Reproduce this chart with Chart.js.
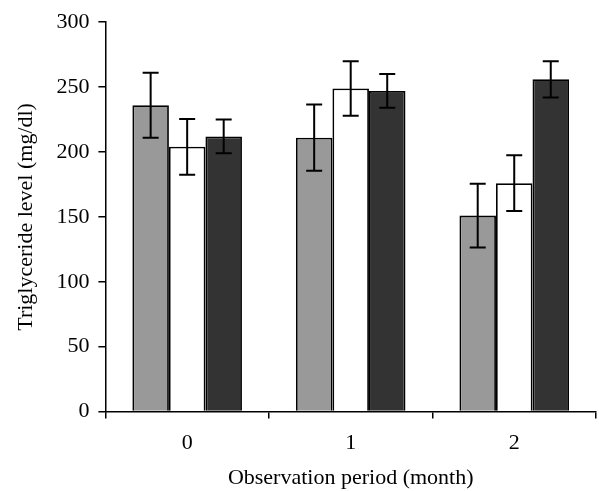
<!DOCTYPE html>
<html>
<head>
<meta charset="utf-8">
<script src="https://cdn.jsdelivr.net/npm/chart.js@4"></script>
<style>
  html, body { margin: 0; padding: 0; background: #fff; }
  #wrap { width: 599px; height: 491px; }
</style>
</head>
<body>
<div id="wrap"><canvas id="chart"></canvas></div>
<script>
const periods = ['0', '1', '2'];
const groupA = [236, 211, 151];
const groupB = [204, 249, 176];
const groupC = [212, 247, 256];
const errA = [25, 25.5, 24.5];
const errB = [21.5, 21, 21.5];
const errC = [13, 13, 14];
const yTicks = [0, 50, 100, 150, 200, 250, 300];

// draws the error bars on top of each bar
const errorBars = {
  id: 'errorBars',
  afterDatasetsDraw(chart) {
    const ctx = chart.ctx;
    const y = chart.scales.y;
    ctx.save();
    ctx.strokeStyle = '#000';
    ctx.lineWidth = 2;
    chart.data.datasets.forEach((ds, i) => {
      const meta = chart.getDatasetMeta(i);
      meta.data.forEach((bar, j) => {
        const v = ds.data[j];
        const e = ds.errors[j];
        const top = y.getPixelForValue(v + e);
        const bot = y.getPixelForValue(v - e);
        const x = bar.x;
        ctx.beginPath();
        ctx.moveTo(x, top); ctx.lineTo(x, bot);
        ctx.moveTo(x - 8, top); ctx.lineTo(x + 8, top);
        ctx.moveTo(x - 8, bot); ctx.lineTo(x + 8, bot);
        ctx.stroke();
      });
    });
    ctx.restore();
  }
};

const font = { family: '"Liberation Serif", "Times New Roman", serif', size: 22 };
const titleFont = Object.assign({}, font, { lineHeight: 1.0 });

new Chart(document.getElementById('chart'), {
  type: 'bar',
  data: {
    labels: periods,
    datasets: [
      { data: groupA, errors: errA, backgroundColor: '#999999' },
      { data: groupB, errors: errB, backgroundColor: '#ffffff' },
      { data: groupC, errors: errC, backgroundColor: '#333333' }
    ].map(d => Object.assign(d, { borderColor: '#000', borderWidth: 1.8, borderSkipped: 'bottom',
      categoryPercentage: 0.67, barPercentage: 1.0 }))
  },
  options: {
    responsive: true,
    maintainAspectRatio: false,
    animation: false,
    layout: { padding: { top: 10, right: 3, left: 13, bottom: 0 } },
    plugins: { legend: { display: false }, tooltip: { enabled: false } },
    scales: {
      x: {
        grid: { display: true, drawOnChartArea: false, drawTicks: true, tickLength: 7, color: '#000', lineWidth: 1.5 },
        border: { display: true, color: '#000', width: 1.5 },
        ticks: { color: '#000', font: font, padding: 11 },
        title: { display: true, text: 'Observation period (month)', color: '#000', font: titleFont, padding: { top: 0, bottom: 2 } }
      },
      y: {
        min: 0,
        max: 300,
        afterBuildTicks: axis => { axis.ticks = yTicks.map(v => ({ value: v })); },
        grid: { display: true, drawOnChartArea: false, drawTicks: true, tickLength: 7, color: '#000', lineWidth: 1.5 },
        border: { display: true, color: '#000', width: 1.5 },
        ticks: { color: '#000', font: font, padding: 9 },
        title: { display: true, text: 'Triglyceride level (mg/dl)', color: '#000', font: font, padding: { top: 0, bottom: 8 } }
      }
    }
  },
  plugins: [errorBars]
});
</script>
</body>
</html>
